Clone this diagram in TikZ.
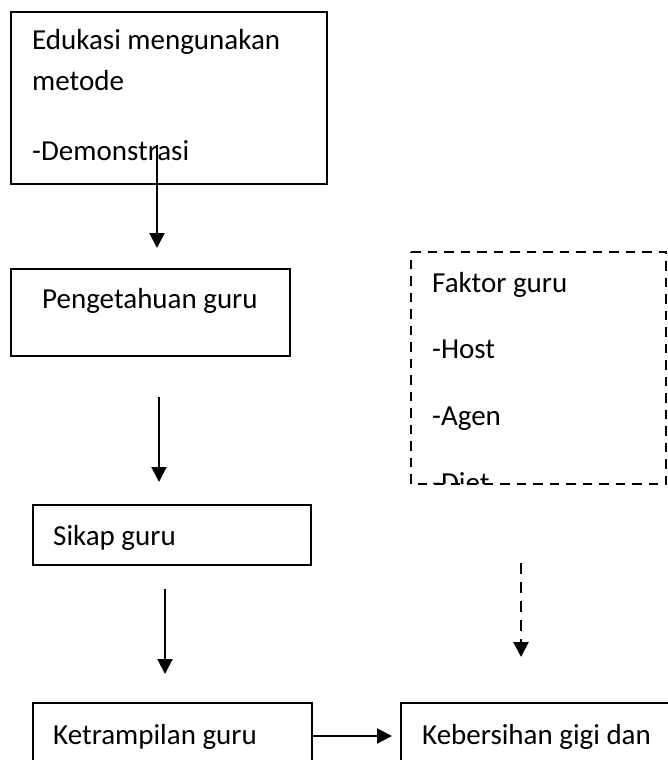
\documentclass[tikz,border=0pt]{standalone}
\usepackage{fontspec}
\setmainfont{Carlito}
\usetikzlibrary{arrows.meta}
\tikzset{
  boxline/.style={draw=black, line width=1.5pt},
  dashbox/.style={draw=black, line width=2pt, dash pattern=on 9.5pt off 7pt},
  txt/.style={inner sep=0pt, anchor=base west, font=\fontsize{29}{34}\selectfont},
  conn/.style={line width=2pt, -{Triangle[length=15pt,width=15pt]}},
  dconn/.style={line width=2.2pt, dash pattern=on 11pt off 8pt, -{Triangle[length=15pt,width=15pt]}},
}
\begin{document}
\begin{tikzpicture}[x=1pt,y=-1pt]
\useasboundingbox (0,0) rectangle (668,760);
\fill[white] (0,0) rectangle (668,760);
% boxes
\draw[boxline] (11,12) rectangle (327,184);
\node[txt] (t1a) at (32,49) {Edukasi mengunakan};
\node[txt] (t1b) at (32,90) {metode};
\node[txt] (t1c) at (32,160) {-Demonstrasi};
\draw[boxline] (11,269) rectangle (290,356);
\node[txt] (t2) at (42,308) {Pengetahuan guru};
\draw[boxline] (33,505) rectangle (311,565);
\node[txt] (t3) at (53,545) {Sikap guru};
\draw[boxline] (33,770) -- (33,703) -- (312,703) -- (312,770);
\node[txt] (t4) at (53,744) {Ketrampilan guru};
\draw[boxline] (401,770) -- (401,703) -- (680,703);
\node[txt] (t5) at (422,744) {Kebersihan gigi dan};
% dashed box
\draw[dashbox] (411,252) -- (666,252) -- (666,484) -- (411,484) -- cycle;
\node[txt] (f1) at (432,292) {Faktor guru};
\node[txt] (f2) at (432,358) {-Host};
\node[txt] (f3) at (432,425) {-Agen};
\begin{scope}
\clip (411,252) rectangle (666,483);
\node[txt] (f4) at (432,492) {-Diet};
\end{scope}
% connectors
\coordinate (a1s) at (157,145);
\coordinate (a1e) at (157,248);
\coordinate (a2s) at (159,397);
\coordinate (a2e) at (159,482);
\coordinate (a3s) at (165,589);
\coordinate (a3e) at (165,674);
\coordinate (a4s) at (313,736);
\coordinate (a4e) at (392,736);
\coordinate (a5s) at (521,563);
\coordinate (a5e) at (521,657);
\draw[conn] (a1s) -- (a1e);
\draw[conn] (a2s) -- (a2e);
\draw[conn] (a3s) -- (a3e);
\draw[conn] (a4s) -- (a4e);
\draw[dconn] (a5s) -- (a5e);
\end{tikzpicture}
\end{document}
